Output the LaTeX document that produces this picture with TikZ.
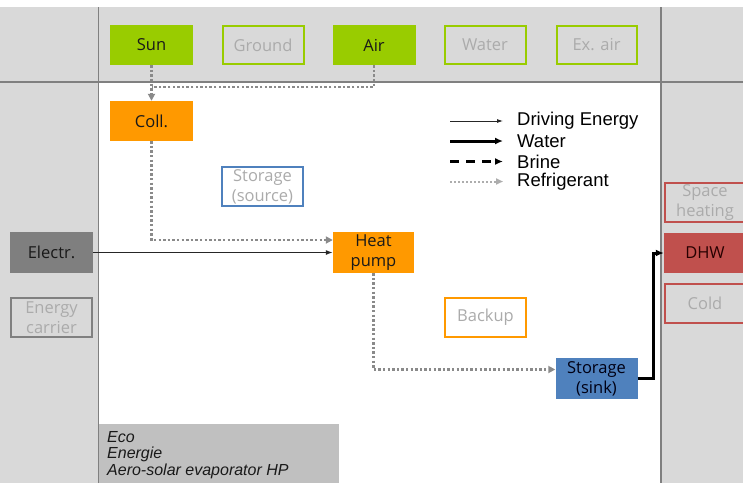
\documentclass[tikz,border=0pt]{standalone}
\usepackage{fontspec}
\setmainfont{Open Sans}
\newfontfamily\legfont{Liberation Sans}
\usetikzlibrary{arrows.meta}

\definecolor{panel}{HTML}{D9D9D9}
\definecolor{rule}{HTML}{808080}
\definecolor{srcgreen}{HTML}{99CC00}
\definecolor{hporange}{HTML}{FF9900}
\definecolor{stblue}{HTML}{4F81BD}
\definecolor{sinkred}{HTML}{C0504D}
\definecolor{elgray}{HTML}{7F7F7F}
\definecolor{faint}{HTML}{ABABAB}
\definecolor{refrgray}{HTML}{8A8A8A}
\definecolor{notebox}{HTML}{C0C0C0}

\tikzset{
  box/.style={rectangle, minimum width=83pt, minimum height=40pt, inner sep=0pt,
    align=center, font=\fontsize{16.5}{20}\selectfont},
  filled/.style={box, fill=#1, draw=none, text=black!90},
  hollow/.style={box, fill=none, draw=#1, line width=2pt, text=faint},
  refr/.style={draw=refrgray, line width=2.6pt, dash pattern=on 2.4pt off 2.2pt,
    -{Triangle[length=7pt,width=7pt,fill=refrgray]}},
  refrline/.style={draw=refrgray, line width=2.6pt, dash pattern=on 2.4pt off 2.2pt},
  drive/.style={draw=black!85, line width=1.1pt, -{Latex[length=7pt,width=5pt]}},
  water/.style={draw=black, line width=3pt, -{Latex[length=8pt,width=7pt]}},
  brine/.style={draw=black, line width=3pt, dash pattern=on 9pt off 7pt,
    -{Latex[length=8pt,width=7pt]}},
  legtext/.style={anchor=west, inner sep=0pt, font=\legfont\fontsize{18.5}{20}\selectfont},
  notetext/.style={anchor=west, inner sep=0pt, text=black!90, font=\legfont\itshape\fontsize{16}{18}\selectfont}
}

\begin{document}
\begin{tikzpicture}[x=1pt, y=-1pt]
  \clip (0,0) rectangle (743,483);
  % background panels
  \fill[white] (0,0) rectangle (743,483);
  \fill[panel] (0,7) rectangle (743,82);
  \fill[panel] (0,82) rectangle (98.5,483);
  \fill[panel] (661,82) rectangle (743,483);
  \draw[rule, line width=1.3pt] (0,82) -- (743,82);
  \draw[rule, line width=1.5pt] (98.5,7) -- (98.5,483);
  \draw[rule, line width=1.5pt] (661,7) -- (661,483);

  % note box
  \fill[notebox] (99.3,424) rectangle (339,483);
  \node[notetext] (n1) at (107,437) {Eco};
  \node[notetext] (n2) at (107,454) {Energie};
  \node[notetext] (n3) at (107,471) {Aero-solar evaporator HP};

  % heat sources
  \node[filled=srcgreen] (sun) at (151.5,45) {Sun};
  \node[hollow=srcgreen, minimum width=81pt, minimum height=38pt] (ground) at (263,45) {Ground};
  \node[filled=srcgreen] (air) at (374,45) {Air};
  \node[hollow=srcgreen, minimum width=81pt, minimum height=38pt] (water) at (485,45) {Water};
  \node[hollow=srcgreen, minimum width=80pt, minimum height=38pt] (exair) at (596.5,45) {Ex. air};

  % components
  \node[filled=hporange] (coll) at (151.5,121) {Coll.};
  \node[hollow=stblue, minimum width=81pt, minimum height=39pt] (stsrc) at (262.5,186.5) {Storage\\(source)};
  \node[filled=hporange, minimum width=81pt, minimum height=41pt] (hp) at (373.5,252.5) {Heat\\pump};
  \node[hollow=hporange, minimum width=81pt, minimum height=39pt] (backup) at (485.5,317.5) {Backup};
  \node[filled=stblue, minimum width=82pt, minimum height=41pt, text={black!80!blue!40!black}] (sink) at (596.5,378.5) {Storage\\(sink)};

  % energy carriers
  \node[filled=elgray, minimum height=41pt] (electr) at (51.5,252.5) {Electr.};
  \node[hollow=rule, minimum width=81pt, minimum height=39pt] (carrier) at (51.5,317.5) {Energy\\carrier};

  % heat sinks
  \node[hollow=sinkred, minimum width=80pt, minimum height=39pt] (space) at (705,202) {Space\\heating};
  \node[filled=sinkred, minimum width=82pt, minimum height=40pt, text=black!85!red] (dhw) at (705,253) {DHW};
  \node[hollow=sinkred, minimum width=80pt, minimum height=39pt] (cold) at (705,303) {Cold};

  % refrigerant circuit
  \coordinate (join) at (151.5,87);
  \draw[refrline] (air.south) |- (join);
  \draw[refr] (sun.south) -- (coll.north);
  \draw[refr] (coll.south) |- ([yshift=12.5pt]hp.west);
  \draw[refr] (hp.south) |- ([yshift=9pt]sink.west);

  % driving energy and water
  \draw[drive] (electr.east) -- (hp.west);
  \draw[water] (sink.east) -- ++(16,0) |- (dhw.west);

  % legend
  \coordinate (l1a) at (450,121); \coordinate (l1b) at (503,121);
  \coordinate (l2a) at (450,141); \coordinate (l2b) at (503,141);
  \coordinate (l3a) at (450,161.5); \coordinate (l3b) at (503,161.5);
  \coordinate (l4a) at (450,181.5); \coordinate (l4b) at (503,181.5);
  \draw[drive, line width=0.8pt, -{Latex[length=6pt,width=4pt]}] (l1a) -- (l1b);
  \draw[water] (l2a) -- (l2b);
  \draw[brine] (l3a) -- (l3b);
  \draw[refr, draw=refrgray!70, line width=2pt, dash pattern=on 2pt off 2pt,
    -{Triangle[length=7pt,width=6pt,fill=refrgray!70]}] (l4a) -- (l4b);
  \node[legtext] (t1) at (517,121) {Driving Energy};
  \node[legtext] (t2) at (517,141) {Water};
  \node[legtext] (t3) at (517,161.5) {Brine};
  \node[legtext] (t4) at (517,181.5) {Refrigerant};
\end{tikzpicture}
\end{document}
